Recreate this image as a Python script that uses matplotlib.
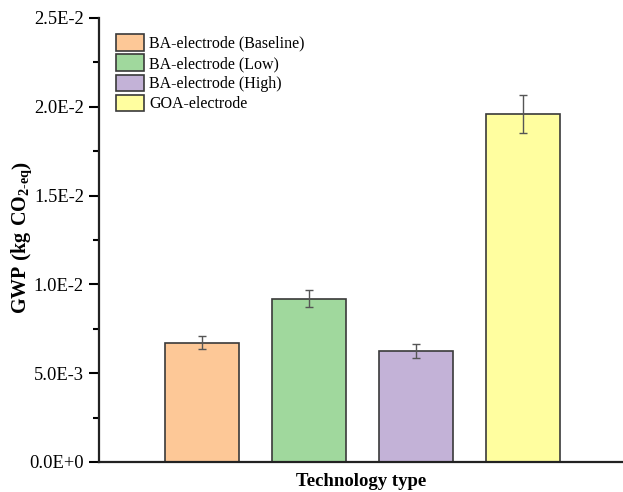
import numpy as np
import matplotlib.pyplot as plt
from matplotlib.ticker import FuncFormatter, MultipleLocator

plt.rcParams['font.family'] = ['Liberation Serif', 'DejaVu Serif']
plt.rcParams['mathtext.fontset'] = 'custom'
plt.rcParams['mathtext.rm'] = 'Liberation Serif:bold'
plt.rcParams['mathtext.bf'] = 'Liberation Serif:bold'

# datos
labels = ['BA-electrode (Baseline)', 'BA-electrode (Low)',
          'BA-electrode (High)', 'GOA-electrode']
gwp = [0.00672, 0.00920, 0.00625, 0.01958]
err = [0.00038, 0.00048, 0.00037, 0.00107]
colors = ['#FDC897', '#A0D89D', '#C3B2D7', '#FFFE9F']

fig = plt.figure(figsize=(6.23, 4.92), dpi=100)
ax = fig.add_axes([99 / 623, 1 - 462 / 492, 1 - 99 / 623, (462 - 18) / 492])

pos = np.arange(1, len(gwp) + 1)
for p, v, e, c, lab in zip(pos, gwp, err, colors, labels):
    ax.bar(p, v, width=0.69, color=c, edgecolor='#3a3a3a', linewidth=1.2,
           label=lab, zorder=2)
    ax.errorbar(p, v, yerr=e, fmt='none', ecolor='#555555', elinewidth=1,
                capsize=3, capthick=1, zorder=3)

ax.set_xlim(0.04, 4.93)
ax.set_ylim(0, 0.025)
ax.yaxis.set_major_locator(MultipleLocator(0.005))
ax.yaxis.set_minor_locator(MultipleLocator(0.0025))


def sci(v, _):
    if v == 0:
        return '0.0E+0'
    exp = int(np.floor(np.log10(abs(v)) + 1e-9))
    return f'{v / 10**exp:.1f}E{exp}'


ax.yaxis.set_major_formatter(FuncFormatter(sci))
ax.set_xticks([])
for s in ['top', 'right']:
    ax.spines[s].set_visible(False)
for s in ['left', 'bottom']:
    ax.spines[s].set_linewidth(1.6)
    ax.spines[s].set_color('#222222')
ax.tick_params(axis='y', which='major', length=7, width=1.5, labelsize=13.3,
               direction='out', pad=4)
ax.tick_params(axis='y', which='minor', length=4, width=1.5, direction='out')

ax.set_ylabel(r'GWP $\left(\mathrm{kg\ CO_{2\text{-}eq}}\right)$', fontsize=14.5,
              fontweight='bold')
ax.yaxis.set_label_coords(-0.125, 0.505)
ax.set_xlabel('Technology type', fontsize=13.5, fontweight='bold', labelpad=8)

ax.legend(loc='upper left', bbox_to_anchor=(0.015, 0.985), frameon=False,
          fontsize=11.5, handlelength=1.75, handleheight=1.2, handletextpad=0.3,
          labelspacing=0.16, borderaxespad=0.2)

fig.savefig('out.png', dpi=100)
